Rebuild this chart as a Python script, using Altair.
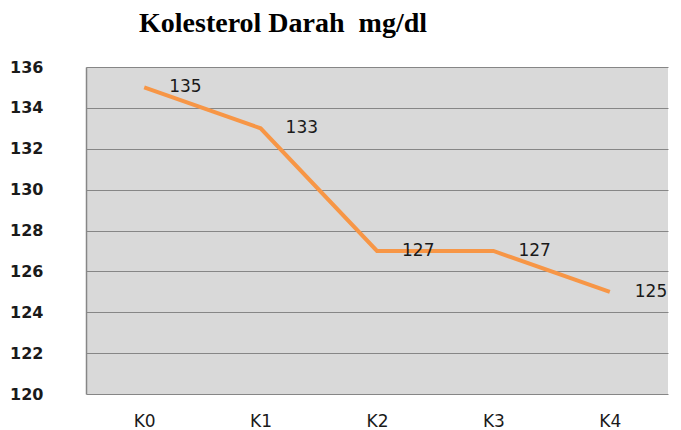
import altair as alt
import pandas as pd

categories = ["K0", "K1", "K2", "K3", "K4"]
values = [135, 133, 127, 127, 125]
y_ticks = [120, 122, 124, 126, 128, 130, 132, 134, 136]

df = pd.DataFrame({"kelompok": categories, "kolesterol": values})

x = alt.X("kelompok:N", sort=categories, title=None,
          scale=alt.Scale(paddingInner=0, paddingOuter=0.5),
          axis=alt.Axis(labelAngle=0, ticks=False, domain=False, grid=False,
                        labelFont="DejaVu Sans", labelFontSize=17, labelColor="#1a1a1a",
                        labelPadding=19))
y = alt.Y("kolesterol:Q", title=None,
          scale=alt.Scale(domain=[120, 136], nice=False, zero=False),
          axis=alt.Axis(values=y_ticks, ticks=False, domain=True, domainColor="#868686",
                        domainWidth=1.5, grid=True, gridColor="#868686", gridWidth=1,
                        labelFont="DejaVu Sans", labelFontWeight="bold", labelFontSize=16,
                        labelColor="#1a1a1a", labelPadding=43))

line = alt.Chart(df).mark_line(color="#f79646", strokeWidth=4).encode(x=x, y=y)
labels = alt.Chart(df).mark_text(align="left", baseline="middle", dx=25, dy=0,
                                 font="DejaVu Sans", fontSize=17, color="#1a1a1a").encode(
    x=x, y=y, text="kolesterol:Q")

chart = (line + labels).properties(
    width=582, height=327,
    autosize=alt.AutoSizeParams(type="none"),
    padding={"left": 78, "top": 59, "right": 5, "bottom": 35},
    title=alt.TitleParams("Kolesterol Darah\u00a0 mg/dl", font="Liberation Serif",
                          fontSize=28, fontWeight="bold", color="#000000",
                          anchor="middle", frame="group", dx=-94, offset=21),
).configure(background="white").configure_view(fill="#d9d9d9", strokeWidth=0)

chart.save("out.html", embed_options={"renderer": "svg", "actions": False})
